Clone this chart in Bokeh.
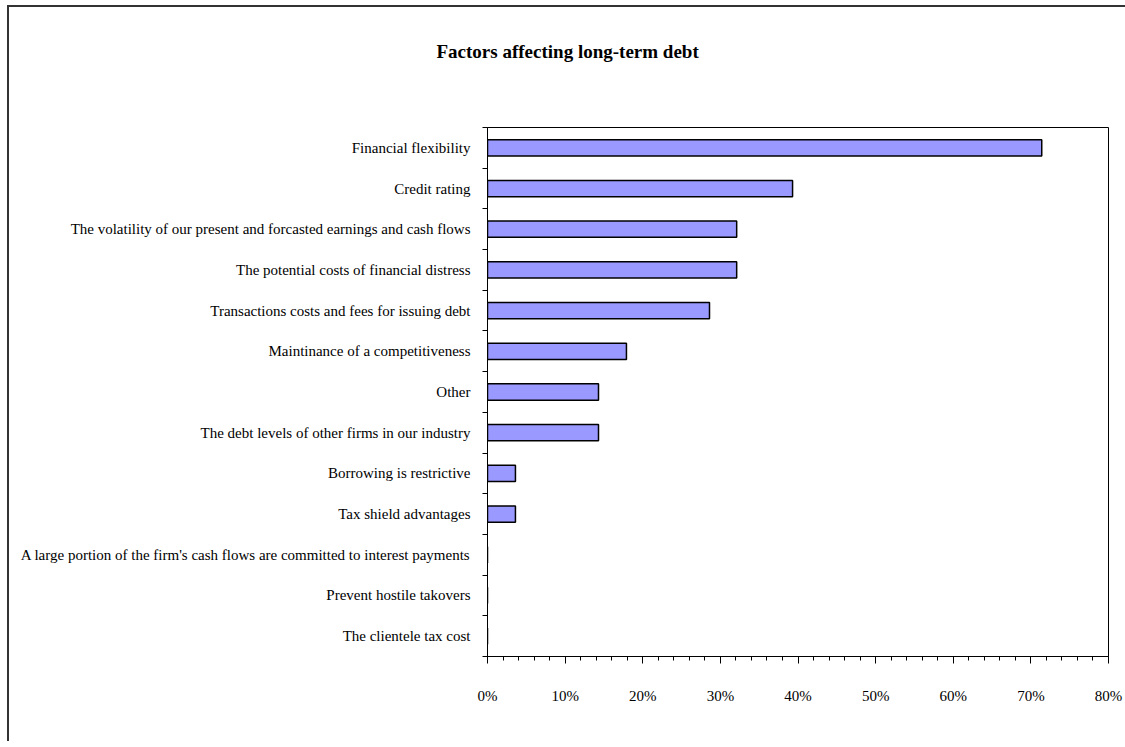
from bokeh.plotting import figure
from bokeh.models import Range1d, FixedTicker, NumeralTickFormatter, Title, ColumnDataSource
from bokeh.embed import file_html
from bokeh.resources import INLINE

title_text = "Factors affecting long-term debt"
categories = [
    "Financial flexibility",
    "Credit rating",
    "The volatility of our present and forcasted earnings and cash flows",
    "The potential costs of financial distress",
    "Transactions costs and fees for issuing debt",
    "Maintinance of a competitiveness",
    "Other",
    "The debt levels of other firms in our industry",
    "Borrowing is restrictive",
    "Tax shield advantages",
    "A large portion of the firm's cash flows are committed to interest payments",
    "Prevent hostile takovers",
    "The clientele tax cost",
]
values = [0.714, 0.393, 0.321, 0.321, 0.286, 0.179, 0.143, 0.143, 0.036, 0.036, 0.0, 0.0, 0.0]
x_ticks = [0.0, 0.1, 0.2, 0.3, 0.4, 0.5, 0.6, 0.7, 0.8]
x_minor = [round(i * 0.02, 2) for i in range(41)]

n = len(categories)
positions = [n - i for i in range(n)]
src = ColumnDataSource(dict(y=positions, v=values, cat=categories))

FONT = "Liberation Serif"

p = figure(
    frame_width=621, frame_height=529,
    min_border_left=478, min_border_right=17, min_border_top=120, min_border_bottom=85,
    x_range=Range1d(0, 0.8), y_range=Range1d(0.5, n + 0.5),
    output_backend="svg", toolbar_location=None, tools="",
)
p.styles = {"border-left": "2px solid #333333", "border-top": "2px solid #333333",
            "margin-left": "7px", "margin-top": "5px"}

p.hbar(y="y", right="v", left=0, height=0.4, source=src,
       fill_color="#9999FF", line_color="black", line_width=1.5)

t = Title(text=title_text, align="left", offset=-51, standoff=0,
          padding=dict(left=0, right=0, top=0, bottom=66),
          text_font=FONT, text_font_size="19px", text_font_style="bold", text_color="black")
p.add_layout(t, "above")

p.xgrid.visible = False
p.ygrid.visible = False
p.outline_line_color = "black"
p.outline_line_width = 1
p.background_fill_color = "white"
p.border_fill_color = "white"

xa = p.xaxis[0]
xa.ticker = FixedTicker(ticks=x_ticks, minor_ticks=x_minor)
xa.formatter = NumeralTickFormatter(format="0%")
xa.major_tick_in = 0
xa.major_tick_out = 7
xa.minor_tick_in = 0
xa.minor_tick_out = 4
xa.axis_line_color = "black"
xa.major_tick_line_color = "black"
xa.minor_tick_line_color = "black"
xa.major_label_text_font = FONT
xa.major_label_text_font_size = "15px"
xa.major_label_text_color = "black"
xa.major_label_standoff = 24

ya = p.yaxis[0]
ya.ticker = FixedTicker(ticks=positions, minor_ticks=[i + 0.5 for i in range(n + 1)])
ya.major_label_overrides = {pos: cat for pos, cat in zip(positions, categories)}
ya.major_tick_in = 0
ya.major_tick_out = 0
ya.minor_tick_in = 0
ya.minor_tick_out = 5
ya.axis_line_color = "black"
ya.minor_tick_line_color = "black"
ya.major_label_text_font = FONT
ya.major_label_text_font_size = "15px"
ya.major_label_text_color = "black"
ya.major_label_standoff = 12

open("out.html", "w").write(file_html(p, INLINE))
